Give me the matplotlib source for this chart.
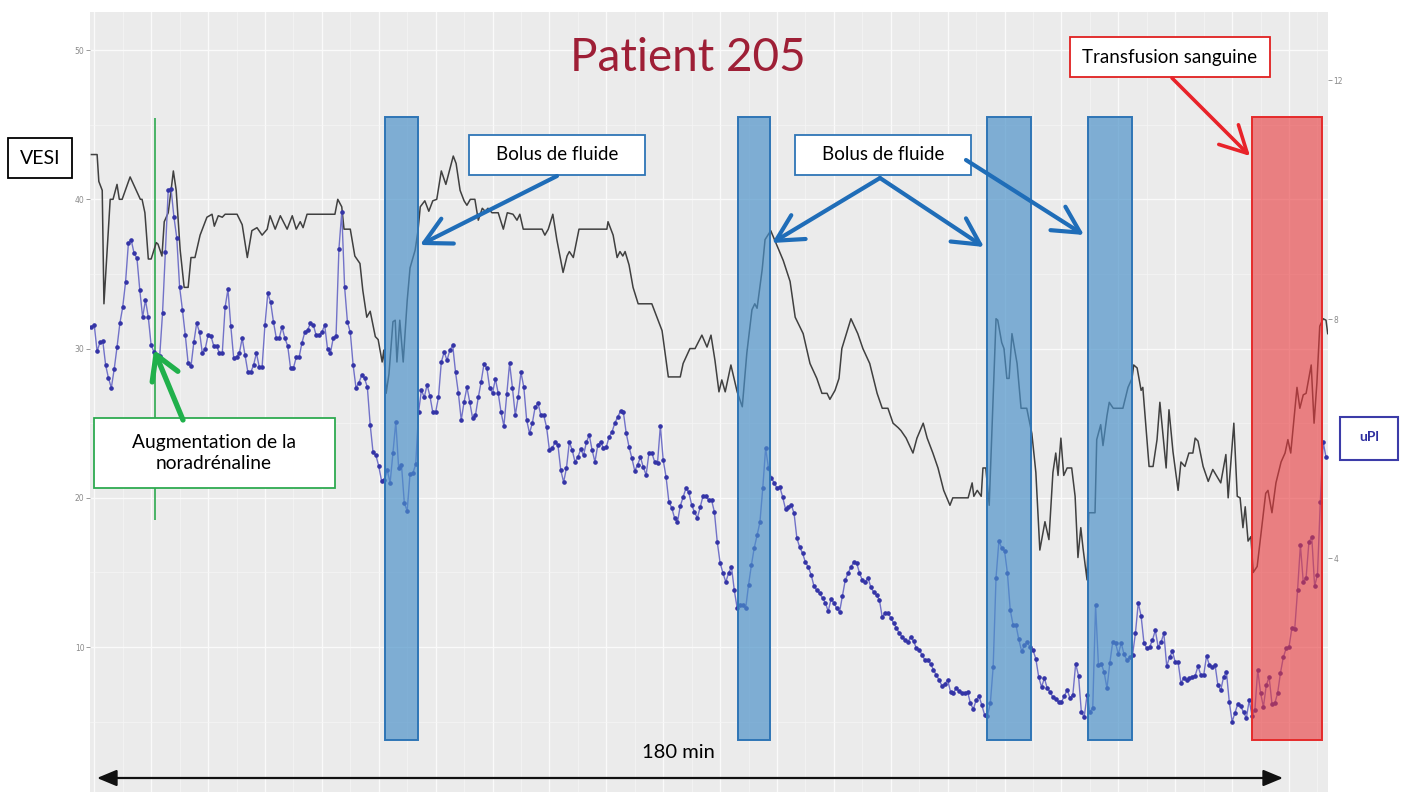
import matplotlib
matplotlib.use("Agg")
import matplotlib.pyplot as plt
import matplotlib.transforms as mtransforms
from matplotlib.patches import Rectangle, FancyArrowPatch
from matplotlib.ticker import MultipleLocator
from matplotlib.colors import to_rgba
import numpy as np

W, H = 1403, 792

# VESI (axe gauche), sommets de la courbe : temps (min) et valeur
vesi_t = [0.0, 1.0, 1.3, 1.9, 2.2, 3.3, 3.8, 4.5, 4.9, 5.4,
          6.8, 8.6, 8.9, 9.4, 10.0, 10.5, 11.4, 11.7, 12.4, 12.8,
          13.5, 14.0, 14.4, 14.9, 15.6, 16.3, 17.0, 17.5, 18.2, 19.1,
          19.6, 20.3, 21.2, 21.6, 22.3, 23.0, 23.5, 25.6, 26.5, 27.4,
          28.2, 29.1, 30.0, 30.9, 31.4, 32.3, 33.2, 34.4, 35.3, 36.0,
          36.7, 37.2, 37.9, 42.8, 43.3, 44.0, 44.4, 45.5, 46.3, 47.2,
          47.7, 48.4, 49.0, 49.9, 50.4, 51.1, 51.4, 51.8, 52.3, 53.0,
          53.4, 53.7, 54.2, 54.8, 55.5, 56.0, 56.9, 57.4, 57.8, 58.6,
          59.3, 60.0, 60.7, 61.5, 62.3, 63.6, 64.1, 64.8, 65.5, 66.0,
          66.6, 67.4, 68.0, 68.7, 69.2, 69.7, 70.4, 71.5, 72.4, 73.1,
          74.1, 74.8, 75.3, 75.9, 79.2, 79.7, 80.3, 81.1, 81.8, 82.9,
          83.6, 84.0, 84.7, 85.7, 90.6, 90.8, 91.7, 92.4, 92.9, 93.4,
          93.8, 94.5, 95.2, 96.1, 98.5, 100.3, 101.4, 103.5, 104.0, 105.2,
          106.1, 107.3, 108.2, 108.9, 109.6, 110.3, 110.8, 111.4, 112.4, 113.5,
          114.4, 115.2, 116.1, 116.6, 117.0, 117.9, 118.4, 119.4, 120.5, 121.6,
          122.8, 123.7, 125.1, 126.3, 127.5, 128.4, 129.3, 129.8, 130.7, 131.4,
          131.9, 133.5, 134.7, 135.6, 136.8, 138.1, 139.0, 140.0, 140.9, 141.8,
          142.3, 143.2, 144.4, 145.1, 146.2, 146.9, 147.9, 148.8, 149.8, 150.9,
          151.4, 154.1, 154.8, 155.1, 155.7, 156.4, 156.7, 157.2, 157.8, 158.3,
          159.0, 159.3, 160.0, 160.4, 160.9, 161.3, 161.8, 162.7, 163.4, 164.4,
          165.3, 166.0, 166.7, 167.6, 168.3, 169.0, 169.5, 169.9, 170.4, 170.9,
          171.5, 172.3, 172.9, 173.4, 173.9, 174.3, 175.0, 175.3, 176.4, 176.7,
          177.4, 177.8, 178.5, 178.9, 179.6, 181.3, 182.2, 182.9, 183.2, 183.8,
          184.5, 184.8, 185.9, 186.6, 187.3, 187.8, 188.9, 189.4, 190.1, 191.0,
          191.5, 192.2, 192.9, 193.6, 194.0, 194.5, 195.4, 196.3, 197.1, 198.5,
          199.4, 199.8, 200.8, 201.4, 201.9, 202.4, 202.8, 203.3, 203.8, 204.2,
          204.9, 205.7, 206.4, 206.8, 207.5, 208.2, 209.1, 209.8, 210.3, 210.8,
          211.9, 212.4, 213.0, 213.5, 214.4, 214.9, 215.4, 215.9, 216.5, 217.0,
          217.3]
vesi = [43, 43, 41.2, 40.6, 33.0, 40, 40, 41, 40, 40,
        41.5, 40, 40, 39.1, 36, 36, 37.1, 37, 36.2, 38.5,
        39.1, 40.6, 41.9, 40.6, 36.6, 34.1, 34.1, 36.1, 36.1, 37.6,
        38.1, 38.8, 39, 38.2, 38.9, 38.8, 39, 39, 38.3, 36.1,
        37.9, 38.1, 37.6, 38, 38.9, 38, 38.9, 38, 38.9, 38,
        38.5, 38.1, 39, 39, 40, 39.5, 38, 38, 36.2, 35.7,
        33.9, 32.1, 32.5, 30.8, 30.6, 29.1, 29.9, 27.0, 28.3, 31.8,
        31.9, 29.1, 31.9, 29.1, 33.2, 35.4, 36.6, 37.9, 39.5, 39.9,
        39.2, 39.9, 40, 41.9, 41, 42.9, 42.4, 40.6, 39.9, 39.6,
        40, 40, 38.6, 39.4, 39.2, 39.4, 39.1, 39.1, 38, 39.1,
        39, 38.6, 39, 38, 38, 37.6, 38, 39, 37.3, 35.1,
        36.2, 36.5, 36.1, 38, 38, 38.5, 37.6, 36.1, 36.5, 36.2,
        36.5, 35.6, 34.1, 33, 33, 31.2, 28.1, 28.1, 29, 30,
        30, 30.9, 30.1, 30.9, 29.2, 27.1, 27.9, 27.1, 28.9, 27.1,
        26.1, 29.7, 32.6, 33, 32.7, 35.3, 37.3, 37.9, 36.9, 35.9,
        34.5, 32.1, 31, 29, 28, 27, 27, 26.6, 27.2, 28,
        30, 32, 31, 30, 29, 27, 26, 26, 25, 24.7,
        24.5, 24, 23, 24, 25, 24, 23, 22, 20.5, 19.5,
        20, 20, 21, 20.1, 20.5, 20.1, 22, 22, 19.5, 24.7,
        32, 31.9, 30.4, 30, 28, 28, 31, 29, 26, 26,
        24.3, 21.7, 16.5, 18.4, 17.2, 21.7, 23, 21.5, 24, 21.5,
        22, 22, 20.1, 16, 18, 16.6, 14.5, 19, 19, 23.9,
        24.9, 23.5, 25.5, 26.4, 26, 26, 27.4, 28, 28.9, 28.7,
        27.2, 27.4, 22.1, 22.1, 23.9, 26.4, 22, 25.9, 23.1, 20.5,
        22.4, 22.1, 23, 23, 24, 23.8, 22.1, 21.1, 21.9, 21,
        22.9, 20, 25, 20.1, 20, 18, 19.4, 17.1, 17.4, 15,
        15.4, 18, 20.3, 20.5, 19, 21, 22.4, 23, 23.9, 23,
        27.4, 26, 26.9, 27, 28.9, 25, 27.7, 31.5, 32, 31.9,
        31]

# uPI (axe droit), une mesure toutes les 30 s
upl = [7.87, 7.90, 7.46, 7.61, 7.63, 7.23, 7.01, 6.85, 7.16, 7.53,
       7.93, 8.20, 8.62, 9.27, 9.32, 9.10, 9.02, 8.49, 8.03, 8.32,
       8.03, 7.56, 7.45, 7.40, 7.38, 8.10, 9.12, 10.16, 10.18, 9.71,
       9.36, 8.54, 8.15, 7.73, 7.26, 7.21, 7.61, 7.93, 7.78, 7.43,
       7.50, 7.73, 7.72, 7.55, 7.55, 7.43, 7.43, 8.20, 8.50, 7.88,
       7.35, 7.36, 7.43, 7.68, 7.40, 7.11, 7.11, 7.23, 7.43, 7.20,
       7.20, 7.90, 8.43, 8.28, 7.95, 7.68, 7.68, 7.87, 7.68, 7.55,
       7.18, 7.18, 7.36, 7.36, 7.60, 7.78, 7.82, 7.93, 7.90, 7.73,
       7.73, 7.78, 7.90, 7.50, 7.43, 7.68, 7.72, 9.17, 9.79, 8.54,
       7.95, 7.78, 7.23, 6.85, 6.93, 7.06, 7.01, 6.86,
       6.23, 5.77, 5.72, 5.54, 5.29, 5.31, 5.47, 5.26, 5.76, 6.28,
       5.51, 5.56, 4.92, 4.79, 5.41, 5.42, 5.57, 6.44, 6.81, 6.69,
       6.90, 6.71, 6.44, 6.44, 6.69, 7.28, 7.45, 7.31, 7.48, 7.56,
       7.11, 6.76, 6.31, 6.61, 6.86, 6.61, 6.34, 6.39, 6.69, 6.95,
       7.25, 7.18, 6.85, 6.76, 7.00, 6.76, 6.44, 6.21, 6.74, 7.26,
       6.85, 6.39, 6.69, 7.11, 6.86, 6.31, 6.09, 6.26, 6.53, 6.59,
       6.39, 6.39, 6.19, 5.81, 5.84, 5.94, 5.89, 5.47, 5.27, 5.51,
       5.94, 5.81, 5.61, 5.69, 5.82, 5.72, 5.94, 6.06, 5.81, 5.61,
       5.89, 5.94, 5.84, 5.86, 6.03, 6.11, 6.26, 6.36, 6.46, 6.44,
       6.09, 5.86, 5.67, 5.46, 5.56, 5.69, 5.52, 5.39, 5.76, 5.76,
       5.61, 5.59, 6.21, 5.64, 5.36, 4.94, 4.84, 4.67, 4.60, 4.87,
       5.02, 5.17, 5.10, 4.89, 4.77, 4.67, 4.85, 5.04, 5.04, 4.97,
       4.97, 4.77, 4.27, 3.92, 3.75, 3.60, 3.75, 3.85, 3.46, 3.16,
       3.21, 3.21, 3.16, 3.55, 3.88, 4.17, 4.38, 4.60, 5.17, 5.84,
       5.51, 5.34, 5.26, 5.17, 5.19, 5.02, 4.82, 4.85, 4.89, 4.75,
       4.33, 4.18, 4.08, 3.93, 3.85, 3.72, 3.53, 3.46, 3.41, 3.33,
       3.25, 3.11, 3.31, 3.25, 3.16, 3.10, 3.36, 3.63, 3.75, 3.85,
       3.93, 3.92, 3.75, 3.63, 3.60, 3.67, 3.51, 3.43, 3.38, 3.30,
       3.01, 3.08, 3.08, 3.00, 2.91, 2.83, 2.74, 2.68, 2.63, 2.59,
       2.68, 2.61, 2.49, 2.46, 2.38, 2.29, 2.29, 2.23, 2.13, 2.04,
       1.96, 1.86, 1.89, 1.96, 1.76, 1.74, 1.82, 1.77, 1.74, 1.74,
       1.76, 1.57, 1.47, 1.62, 1.69, 1.54, 1.37, 1.36, 1.57, 2.18,
       3.67, 4.28, 4.17, 4.12, 3.75, 3.13, 2.88, 2.88, 2.64, 2.44,
       2.54, 2.59, 2.51, 2.46, 2.31, 2.01, 1.84, 1.99, 1.82, 1.76,
       1.67, 1.64, 1.59, 1.59, 1.69, 1.79, 1.66, 1.71, 2.23, 2.03,
       1.42, 1.34, 1.71, 1.42, 1.49, 3.21, 2.21, 2.23, 2.09, 1.82,
       2.24, 2.59, 2.58, 2.39, 2.58, 2.39, 2.29, 2.34, 2.38, 2.74,
       3.25, 3.03, 2.58, 2.49, 2.51, 2.63, 2.79, 2.51, 2.59, 2.74,
       2.19, 2.34, 2.44, 2.26, 2.26, 1.91, 1.99, 1.96, 1.99, 2.01,
       2.03, 2.19, 2.04, 2.04, 2.36, 2.21, 2.18, 2.21, 1.87, 1.79,
       2.01, 2.09, 1.59, 1.26, 1.41, 1.56, 1.52, 1.42, 1.32, 1.62,
       1.36, 1.46, 2.13, 1.74, 1.51, 1.87, 2.01, 1.56, 1.57, 1.74,
       2.08, 2.34, 2.49, 2.51, 2.83, 2.81, 3.46, 4.22, 3.60, 3.67,
       4.27, 4.35, 3.53, 3.72, 4.94, 5.94, 5.69]
upl_t = np.arange(len(upl)) * 0.5

# evenements (min)
bolus_debut = [51.6, 113.6, 157.4, 175.1]
bolus_fin = [57.4, 119.3, 165.1, 182.9]
transfusion_debut, transfusion_fin = 204.0, 216.3
noradrenaline_t = 11.2

fig = plt.figure(figsize=(W / 100, H / 100), dpi=100)
ax = fig.add_axes([90 / W, 0, (1328 - 90) / W, (792 - 12) / H])
ax.set_facecolor('#EBEBEB')
ax.set_xlim(-0.25, 217.35)
ax.set_ylim(0.29, 52.55)
ax.xaxis.set_major_locator(MultipleLocator(10, offset=0.5))
ax.xaxis.set_minor_locator(MultipleLocator(5, offset=0.5))
ax.set_yticks([10, 20, 30, 40, 50])
ax.yaxis.set_minor_locator(MultipleLocator(5))
ax.grid(which='major', color='#FAFAFA', lw=1.0)
ax.grid(which='minor', color='#F6F6F6', lw=0.5)
ax.set_axisbelow(True)
ax.tick_params(axis='x', which='both', length=0, labelbottom=False)
ax.tick_params(axis='y', which='minor', length=0)
ax.tick_params(axis='y', which='major', length=3, width=0.7, color='#9A9A9A',
               labelsize=5.5, labelcolor='#8A8A8A', pad=1)
for s in ax.spines.values():
    s.set_visible(False)

ax.plot(vesi_t, vesi, color='#404040', lw=1.1, zorder=3)
ax.vlines(noradrenaline_t, 18.5, 45.45, color='#2EAA50', lw=1.2, zorder=2)

ax2 = ax.twinx()
ax2.set_ylim(0.084, 13.14)
ax2.set_yticks([4, 8, 12])
ax2.tick_params(axis='y', length=3, width=0.7, color='#9A9A9A',
                labelsize=5.5, labelcolor='#8A8A8A', pad=1)
for s in ax2.spines.values():
    s.set_visible(False)
ax2.plot(upl_t, upl, color='#7272C8', lw=1.0, marker='o', ms=2.3,
         mfc='#3434A6', mec='#3434A6', zorder=3)

# zones des bolus et de la transfusion (unites de l'axe gauche)
for d, f in zip(bolus_debut, bolus_fin):
    ax2.add_patch(Rectangle((d, 3.75), f - d, 45.5 - 3.75, transform=ax.transData,
                            fc=to_rgba('#4A90C8', 0.68), ec='#2E75B6', lw=1.4, zorder=6))
ax2.add_patch(Rectangle((transfusion_debut, 3.75), transfusion_fin - transfusion_debut,
                        45.5 - 3.75, transform=ax.transData,
                        fc=to_rgba('#E8383B', 0.6), ec='#E52A2A', lw=1.4, zorder=6))

# annotations en coordonnees pixel de l'image
px = mtransforms.Affine2D().scale(1 / W, -1 / H).translate(0, 1) + fig.transFigure
police = 'Lato'


def boite(x0, y0, x1, y1, ec, lw=1.3):
    fig.add_artist(Rectangle((x0, y0), x1 - x0, y1 - y0, transform=px,
                             fc='white', ec=ec, lw=lw, zorder=5))


def fleche(x0, y0, x1, y1, color, lw, style):
    fig.add_artist(FancyArrowPatch((x0, y0), (x1, y1), transform=px, arrowstyle=style,
                                   color=color, lw=lw, mutation_scale=20,
                                   shrinkA=0, shrinkB=0, zorder=6))


def texte(x, y, s, size, color='black', **kw):
    fig.text(x, y, s, transform=px, ha='center', va='center', fontsize=size,
             color=color, family=police, zorder=7, **kw)


bleu = '#1F6DB8'
tete = '->,head_length=0.95,head_width=0.5'
fleche(557, 176, 420, 245, bleu, 3, tete)
fleche(880, 178, 772, 243, bleu, 3, tete)
fleche(880, 178, 984, 247, bleu, 3, tete)
fleche(966, 160, 1084, 235, bleu, 3, tete)
fleche(1172, 78, 1250, 156, '#E8232A', 2.6, tete)
fleche(183, 420, 154, 350, '#20B04B', 3.8, '->,head_length=0.85,head_width=0.5')
fleche(97, 778, 1283, 778, '#111111', 1.6, '<|-|>,head_length=0.6,head_width=0.25')

boite(8, 138, 72, 178, 'black')
texte(40, 158, 'VESI', 14)
boite(1340, 417, 1398, 460, '#3C3CA8', 1.5)
texte(1369, 437, 'uPl', 10, color='#2F2FA0', weight='bold')
boite(469, 135, 645, 175, '#2E75B6')
texte(557, 155, 'Bolus de fluide', 13.5)
boite(795, 135, 971, 175, '#2E75B6')
texte(883, 155, 'Bolus de fluide', 13.5)
boite(1070, 37, 1270, 77, '#E02020')
texte(1170, 57, 'Transfusion sanguine', 13.5)
boite(94, 418, 335, 488, '#2EAA50')
texte(214, 453, 'Augmentation de la\nnoradrénaline', 13.8, linespacing=1.25)
texte(688, 58, 'Patient 205', 33, color='#9E1F36')
texte(678, 752, '180 min', 14.5)

fig.savefig('out.png', dpi=100, facecolor='white')
